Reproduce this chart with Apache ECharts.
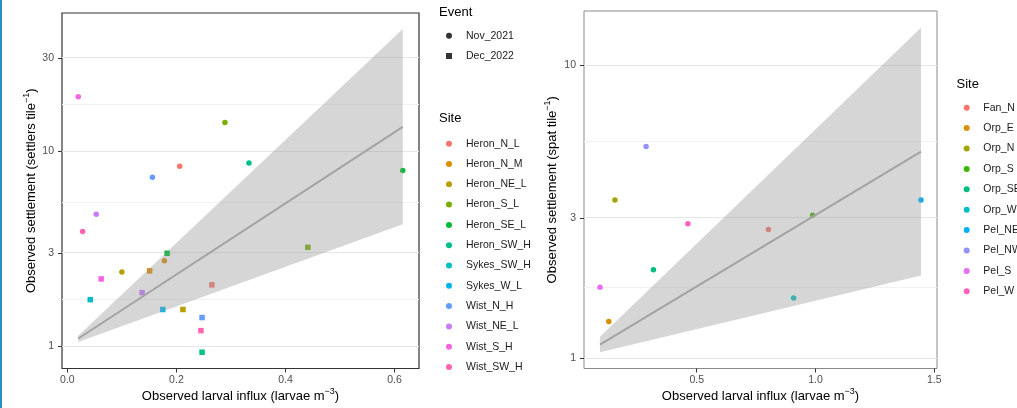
<!DOCTYPE html>
<html>
<head>
<meta charset="utf-8">
<script src="https://cdn.jsdelivr.net/npm/echarts@6/dist/echarts.min.js"></script>
<style>
  html, body { margin: 0; padding: 0; background: #fff; }
  #chart { width: 1017px; height: 408px; }
</style>
</head>
<body>
<div id="chart"></div>
<script>
// events
var events = ["Nov_2021", "Dec_2022"];

// left panel: sites and colours
var heronSites = ["Heron_N_L", "Heron_N_M", "Heron_NE_L", "Heron_S_L", "Heron_SE_L", "Heron_SW_H",
  "Sykes_SW_H", "Sykes_W_L", "Wist_N_H", "Wist_NE_L", "Wist_S_H", "Wist_SW_H"];
var heronColors = ["#F8766D", "#DE8C00", "#B79F00", "#7CAE00", "#00BA38", "#00C08B",
  "#00BFC4", "#00B4F0", "#619CFF", "#C77CFF", "#F564E3", "#FF64B0"];

// left panel points
var heronSite = ["Heron_N_L", "Heron_N_M", "Heron_NE_L", "Heron_S_L", "Heron_SE_L", "Heron_SW_H",
  "Wist_N_H", "Wist_NE_L", "Wist_S_H", "Wist_SW_H",
  "Heron_N_L", "Heron_N_M", "Heron_NE_L", "Heron_S_L", "Heron_SE_L", "Heron_SW_H",
  "Sykes_SW_H", "Sykes_W_L", "Wist_N_H", "Wist_NE_L", "Wist_S_H", "Wist_SW_H"];
var heronEvent = ["Nov_2021", "Nov_2021", "Nov_2021", "Nov_2021", "Nov_2021", "Nov_2021",
  "Nov_2021", "Nov_2021", "Nov_2021", "Nov_2021",
  "Dec_2022", "Dec_2022", "Dec_2022", "Dec_2022", "Dec_2022", "Dec_2022",
  "Dec_2022", "Dec_2022", "Dec_2022", "Dec_2022", "Dec_2022", "Dec_2022"];
var heronInflux = [0.206, 0.178, 0.100, 0.289, 0.615, 0.333, 0.156, 0.053, 0.020, 0.028,
  0.265, 0.151, 0.212, 0.441, 0.183, 0.247, 0.042, 0.175, 0.247, 0.137, 0.062, 0.245];
var heronSettle = [8.35, 2.74, 2.40, 14.0, 7.94, 8.69, 7.34, 4.74, 19.0, 3.87,
  2.06, 2.43, 1.54, 3.21, 2.99, 0.93, 1.73, 1.54, 1.40, 1.88, 2.21, 1.20];

// left panel fit (ends of line and band)
var heronFitX = [0.020, 0.615];
var heronFit = [1.094, 13.3];
var heronLow = [1.048, 4.22];
var heronHigh = [1.129, 42.2];

// right panel
var orpSites = ["Fan_N", "Orp_E", "Orp_N", "Orp_S", "Orp_SE", "Orp_W", "Pel_NE", "Pel_NW", "Pel_S", "Pel_W"];
var orpColors = ["#F8766D", "#D89000", "#A3A500", "#39B600", "#00BF7D", "#00BFC4", "#00B0F6", "#9590FF", "#E76BF3", "#FF62BC"];
var orpInflux = [0.802, 0.130, 0.156, 0.988, 0.318, 0.908, 1.444, 0.287, 0.093, 0.463];
var orpSettle = [2.74, 1.33, 3.46, 3.07, 2.00, 1.60, 3.46, 5.27, 1.74, 2.87];

var orpFitX = [0.093, 1.444];
var orpFit = [1.11, 5.06];
var orpLow = [1.045, 1.91];
var orpHigh = [1.179, 13.4];

// tick labels
var heronXTicks = [0, 0.2, 0.4, 0.6];
var heronYTicks = [1, 3, 10, 30];
var orpXTicks = [0.5, 1.0, 1.5];
var orpYTicks = [1, 3, 10];

var FONT = "Liberation Sans, Arial, sans-serif";
var lg = Math.log10;

function minorOf(ticks) {
  var out = [];
  for (var i = 0; i < ticks.length - 1; i++) out.push((lg(ticks[i]) + lg(ticks[i + 1])) / 2);
  return out;
}

function gridSeries(idx, ticks) {
  var lines = ticks.map(function (t) {
    return { yAxis: lg(t), lineStyle: { color: "#e6e6e6", width: 1, type: "solid" } };
  });
  minorOf(ticks).forEach(function (m) {
    lines.push({ yAxis: m, lineStyle: { color: "#f2f2f2", width: 1, type: "solid" } });
  });
  return {
    type: "line", xAxisIndex: idx, yAxisIndex: idx, data: [], z: 0, silent: true,
    markLine: { silent: true, z: 0, symbol: "none", label: { show: false }, animation: false, data: lines }
  };
}

function bandSeries(idx, xs, fit, low, high) {
  return [
    {
      // confidence ribbon
      type: "custom", xAxisIndex: idx, yAxisIndex: idx, z: 3, silent: true,
      data: xs.map(function (x, i) { return [x, lg(low[i]), lg(high[i])]; }),
      encode: { x: 0, y: [1, 2] },
      renderItem: function (params, api) {
        if (params.dataIndex !== 0) return;
        var pts = [];
        for (var i = 0; i < xs.length; i++) pts.push(api.coord([xs[i], lg(high[i])]));
        for (var j = xs.length - 1; j >= 0; j--) pts.push(api.coord([xs[j], lg(low[j])]));
        return { type: "polygon", shape: { points: pts }, style: { fill: "rgba(153,153,153,0.4)" } };
      }
    },
    {
      type: "line", xAxisIndex: idx, yAxisIndex: idx, symbol: "none", z: 4, silent: true,
      lineStyle: { color: "#a3a3a3", width: 2 },
      data: xs.map(function (x, i) { return [x, lg(fit[i])]; })
    }
  ];
}

var series = [];
series.push(gridSeries(0, heronYTicks));
series.push(gridSeries(1, orpYTicks.concat([30])));

heronSites.forEach(function (s, k) {
  var pts = [];
  heronSite.forEach(function (name, i) {
    if (name === s) pts.push([heronInflux[i], lg(heronSettle[i]), heronEvent[i]]);
  });
  series.push({
    type: "scatter", name: s, xAxisIndex: 0, yAxisIndex: 0, z: 2,
    data: pts,
    symbol: function (v) { return v[2] === "Dec_2022" ? "rect" : "circle"; },
    symbolSize: 5.5,
    itemStyle: { color: heronColors[k], opacity: 1 }
  });
});
events.forEach(function (e) {
  series.push({ type: "scatter", name: e, xAxisIndex: 0, yAxisIndex: 0, data: [], itemStyle: { color: "#000" } });
});
orpSites.forEach(function (s, k) {
  series.push({
    type: "scatter", name: s, xAxisIndex: 1, yAxisIndex: 1, z: 2,
    data: [[orpInflux[k], lg(orpSettle[k])]],
    symbol: "circle", symbolSize: 5.5,
    itemStyle: { color: orpColors[k], opacity: 1 }
  });
});
series = series.concat(bandSeries(0, heronFitX, heronFit, heronLow, heronHigh));
series = series.concat(bandSeries(1, orpFitX, orpFit, orpLow, orpHigh));

var nameRich = {
  t: { fontSize: 13, color: "#000", fontFamily: FONT, lineHeight: 18 },
  s: { fontSize: 9, color: "#000", fontFamily: FONT, verticalAlign: "top", lineHeight: 10 }
};

function xAxisOf(idx, min, max, ticks, fmt, gap) {
  return {
    type: "value", gridIndex: idx, min: min, max: max,
    axisLine: { show: false, onZero: false },
    splitLine: { show: false },
    axisTick: { show: true, length: 4, customValues: ticks, lineStyle: { color: "#333", width: 1 } },
    axisLabel: { customValues: ticks, formatter: function (v) { return v.toFixed(fmt); }, color: "#4d4d4d", fontSize: 10.5, margin: 6, fontFamily: FONT },
    name: "{t|Observed larval influx (larvae m}{s|\u22123}{t|)}",
    nameLocation: "middle", nameGap: gap, nameMoveOverlap: false,
    nameTextStyle: { rich: nameRich }
  };
}

function yAxisOf(idx, min, max, ticks, title, gap) {
  return {
    type: "value", gridIndex: idx, min: min, max: max,
    axisLine: { show: false, onZero: false },
    splitLine: { show: false },
    axisTick: { show: true, length: 4, customValues: ticks.map(lg), lineStyle: { color: "#333", width: 1 } },
    axisLabel: { customValues: ticks.map(lg), formatter: function (v) { return String(Math.round(Math.pow(10, v))); }, color: "#4d4d4d", fontSize: 10.5, margin: 8, fontFamily: FONT },
    name: "{t|" + title + "}{s|\u22121}{t|)}",
    nameLocation: "middle", nameGap: gap, nameRotate: 90, nameMoveOverlap: false,
    nameTextStyle: { rich: nameRich }
  };
}

function legendText(padLeft) {
  return { fontSize: 10.5, color: "#1a1a1a", fontFamily: FONT, lineHeight: 14, padding: [0, 0, 0, padLeft] };
}

var option = {
  animation: false,
  textStyle: { fontFamily: FONT },
  grid: [
    { left: 62, top: 13, width: 357, height: 358, show: true, borderColor: "#333", borderWidth: 1.2, backgroundColor: "transparent" },
    { left: 584, top: 11, width: 353, height: 358, show: true, borderColor: "#8a8a8a", borderWidth: 1, backgroundColor: "transparent" }
  ],
  xAxis: [
    xAxisOf(0, -0.0098, 0.6448, heronXTicks, 1, 19),
    xAxisOf(1, 0.0257, 1.5114, orpXTicks, 1, 19)
  ],
  yAxis: [
    yAxisOf(0, -0.115, 1.708, heronYTicks, "Observed settlement (settlers tile", 22),
    yAxisOf(1, -0.0365, 1.1841, orpYTicks, "Observed settlement (spat tile", 23)
  ],
  legend: [
    {
      orient: "vertical", left: 446, top: 28.7, padding: 0, itemGap: 6.3,
      itemWidth: 6, itemHeight: 6, selectedMode: false, textStyle: legendText(9),
      data: [{ name: "Nov_2021", icon: "circle" }, { name: "Dec_2022", icon: "rect" }]
    },
    {
      orient: "vertical", left: 446, top: 136.7, padding: 0, itemGap: 6.3,
      itemWidth: 6, itemHeight: 6, selectedMode: false, textStyle: legendText(9),
      icon: "circle", data: heronSites
    },
    {
      orient: "vertical", left: 963.7, top: 100.7, padding: 0, itemGap: 6.4,
      itemWidth: 6, itemHeight: 6, selectedMode: false, textStyle: legendText(8.6),
      icon: "circle", data: orpSites
    }
  ],
  graphic: [
    { type: "rect", left: 0, top: 0, shape: { width: 2, height: 408 }, style: { fill: "#2a8fc1" } },
    { type: "text", left: 439, top: 5.5, style: { text: "Event", font: "13px " + FONT, fill: "#000" } },
    { type: "text", left: 439, top: 112, style: { text: "Site", font: "13px " + FONT, fill: "#000" } },
    { type: "text", left: 956.5, top: 77.5, style: { text: "Site", font: "13px " + FONT, fill: "#000" } }
  ],
  series: series
};

var chart = echarts.init(document.getElementById("chart"));
chart.setOption(option);
</script>
</body>
</html>
